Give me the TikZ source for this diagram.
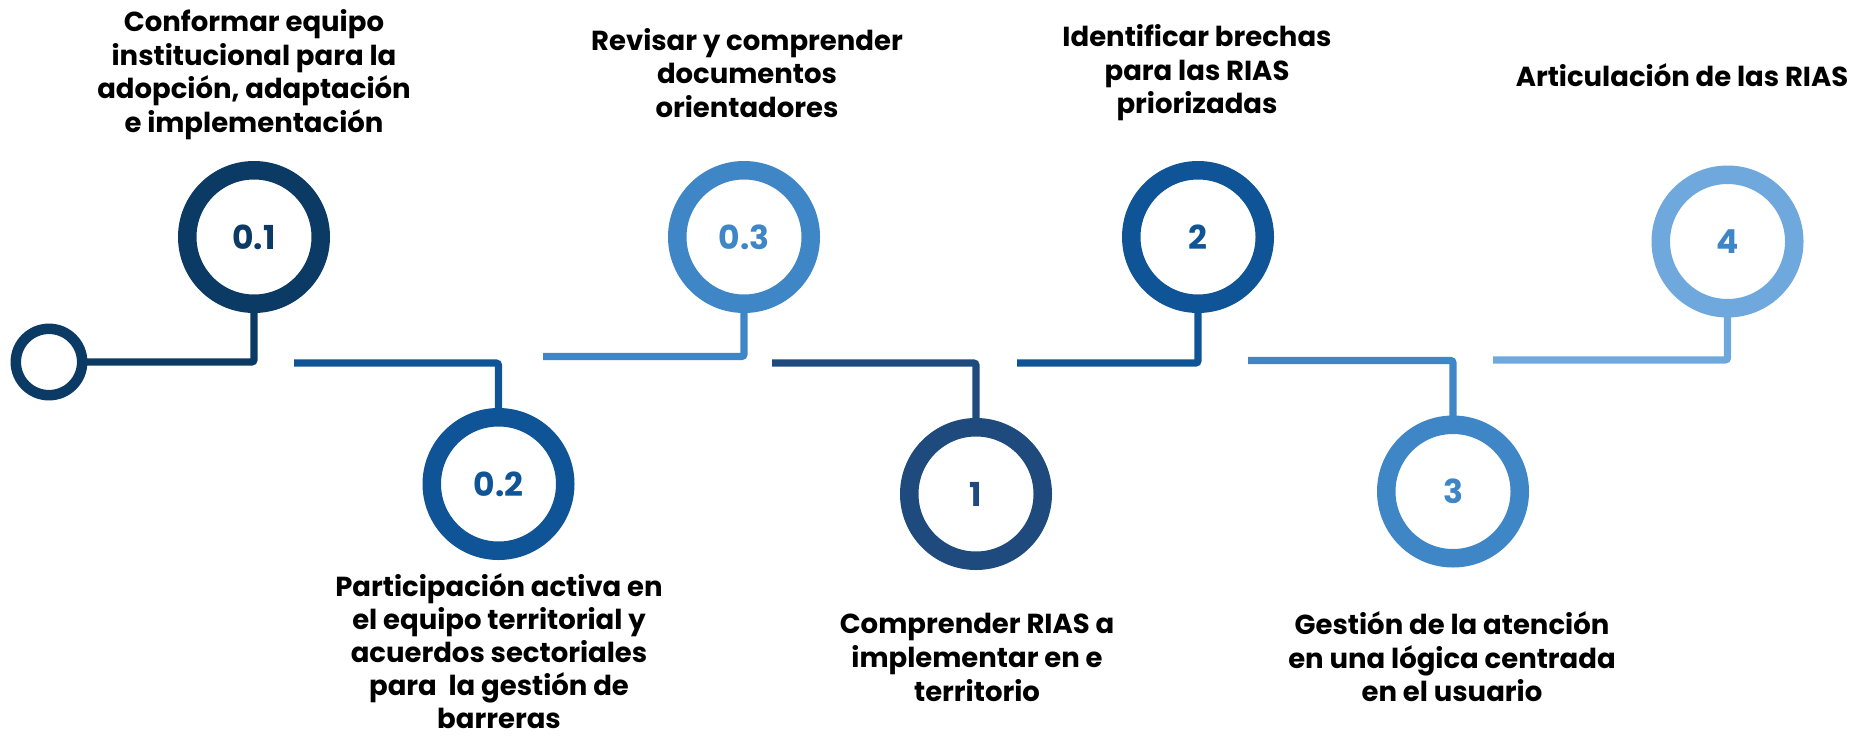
\documentclass[tikz,border=0pt]{standalone}
\usepackage{fontspec}
\setmainfont{Poppins}
\definecolor{c01}{HTML}{0B3A65}
\definecolor{c02}{HTML}{0F5496}
\definecolor{c03}{HTML}{3F86C7}
\definecolor{c1}{HTML}{1F4A7D}
\definecolor{c2}{HTML}{0F5496}
\definecolor{c3}{HTML}{3E86C6}
\definecolor{c4}{HTML}{6FA8DC}
\begin{document}
\begin{tikzpicture}[x=1pt,y=-1pt,
  ring/.style={circle, line width=18.5pt, minimum size=133.5pt, inner sep=0pt, outer sep=0pt,
    font=\fontsize{33}{33}\selectfont\bfseries},
  conn/.style={line width=7.3pt, rounded corners=2.5pt},
  lbl/.style={align=center, font=\fontsize{27.5}{33.6}\selectfont\bfseries, inner sep=0pt, text=black}]
\useasboundingbox (0,0) rectangle (1855,739);

\node[circle, draw=c01, line width=10.5pt, minimum size=66.4pt, inner sep=0pt, outer sep=0pt] (s) at (49,362) {};
\node[ring, draw=c01, text=c01] (n01) at (254,237) {0.1};
\node[ring, draw=c02, text=c02] (n02) at (498.5,484) {0.2};
\node[ring, draw=c03, text=c03] (n03) at (744,237) {0.3};
\node[ring, draw=c1, text=c1] (n1) at (976,494) {1};
\node[ring, draw=c2, text=c2] (n2) at (1198,237) {2};
\node[ring, draw=c3, text=c3] (n3) at (1453,491.5) {3};
\node[ring, draw=c4, text=c3] (n4) at (1727.5,241.5) {4};

\coordinate (a02) at (294,363);
\coordinate (a03) at (543,356.5);
\coordinate (a1) at (772,363);
\coordinate (a2) at (1017,363);
\coordinate (a3) at (1248,360.5);
\coordinate (a4) at (1493,360);

\draw[conn, c01] (s.east) -| (n01.south);
\draw[conn, c02] (a02) -| (n02.north);
\draw[conn, c03] (a03) -| (n03.south);
\draw[conn, c1] (a1) -| (n1.north);
\draw[conn, c2] (a2) -| (n2.south);
\draw[conn, c3] (a3) -| (n3.north);
\draw[conn, c4] (a4) -| (n4.south);

\node[lbl] (t01) at (254,74.5) {Conformar equipo\\institucional para la\\adopción, adaptación\\e implementación};
\node[lbl] (t03) at (747,73) {Revisar y comprender\\documentos\\orientadores};
\node[lbl] (t2) at (1197,73) {Identificar brechas\\para las RIAS\\priorizadas};
\node[lbl] (t4) at (1682,75) {Articulación de las RIAS};
\node[lbl, font=\fontsize{27.5}{33}\selectfont\bfseries] (t02) at (499,651) {Participación activa en\\el equipo territorial y\\acuerdos sectoriales\\para\ \ la gestión de\\barreras};
\node[lbl] (t1) at (977,657.5) {Comprender RIAS a\\implementar en e\\territorio};
\node[lbl] (t3) at (1452,657) {Gestión de la atención\\en una lógica centrada\\en el usuario};
\end{tikzpicture}
\end{document}
